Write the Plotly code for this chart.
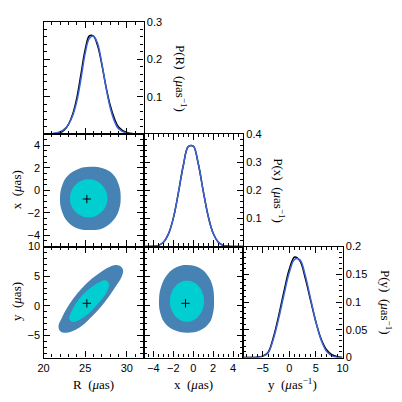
import plotly.graph_objects as go

# ---- marginal posteriors ----
R_grid = [20, 21, 22, 22.5, 23, 23.5, 24, 24.5, 25, 25.5, 26, 26.5, 27, 27.5, 28, 28.5, 29, 30, 31, 32]
pR_blue = [0, 0.0006, 0.006, 0.013, 0.026, 0.049, 0.088, 0.148, 0.216, 0.256, 0.262, 0.242, 0.189, 0.125, 0.071, 0.035, 0.014, 0.002, 0.0002, 0]
pR_black = [0, 0.0004, 0.004, 0.011, 0.026, 0.053, 0.097, 0.161, 0.226, 0.263, 0.262, 0.236, 0.186, 0.127, 0.077, 0.042, 0.019, 0.004, 0.0005, 0]

x_grid = [-5, -4, -3.5, -3, -2.5, -2, -1.5, -1, -0.5, 0, 0.5, 1, 1.5, 2, 2.5, 3, 3.5, 4, 5]
px_blue = [0, 0.001, 0.004, 0.015, 0.044, 0.101, 0.19, 0.288, 0.355, 0.357, 0.295, 0.198, 0.108, 0.047, 0.016, 0.004, 0.001, 0.0002, 0]
px_black = [0, 0.001, 0.004, 0.015, 0.044, 0.101, 0.19, 0.288, 0.355, 0.357, 0.295, 0.198, 0.108, 0.047, 0.016, 0.004, 0.001, 0.0002, 0]

y_grid = [-8.7, -7, -6, -5, -4, -3, -2, -1, 0, 1, 2, 3, 4, 5, 6, 7, 8, 9, 10]
py_blue = [0, 0.0001, 0.0005, 0.002, 0.008, 0.033, 0.07, 0.113, 0.153, 0.177, 0.176, 0.148, 0.106, 0.064, 0.031, 0.011, 0.003, 0.0005, 0]
py_black = [0, 0.0001, 0.0006, 0.0025, 0.009, 0.036, 0.075, 0.119, 0.159, 0.181, 0.174, 0.143, 0.103, 0.064, 0.033, 0.014, 0.005, 0.0012, 0.0002]

# ---- 2D credible regions (boundary points) ----
Rx_outer_R = [29.26, 29.05, 28.3, 27.1, 25.6, 24.2, 23.0, 22.25, 21.98, 22.2, 22.9, 24.1, 25.7, 27.2, 28.4, 29.05]
Rx_outer_x = [-0.72, 0.45, 1.45, 1.95, 2.09, 1.9, 1.35, 0.45, -0.72, -1.85, -2.8, -3.4, -3.53, -3.35, -2.65, -1.75]
Rx_inner_R = [27.66, 27.49, 27.0, 26.28, 25.42, 24.56, 23.84, 23.35, 23.18, 23.35, 23.84, 24.56, 25.42, 26.28, 27.0, 27.49]
Rx_inner_x = [-0.72, -0.07, 0.47, 0.84, 0.97, 0.84, 0.47, -0.07, -0.72, -1.37, -1.91, -2.28, -2.41, -2.28, -1.91, -1.37]

Ry_outer_R = [29.3, 28.9, 27.98, 26.38, 24.78, 23.18, 22.18, 21.8, 22.06, 22.78, 24.18, 25.78, 27.38, 28.78, 29.4, 29.55]
Ry_outer_y = [6.6, 6.85, 6.6, 5.2, 3.23, 0.43, -2.1, -3.5, -4.3, -4.52, -3.78, -1.83, 0.7, 3.51, 5.0, 6.0]
Ry_inner_R = [27.75, 27.4, 26.98, 25.58, 24.18, 23.26, 23.1, 23.3, 23.78, 25.18, 26.58, 27.5, 27.85]
Ry_inner_y = [4.0, 4.3, 4.2, 2.96, 0.99, -1.25, -2.1, -2.6, -2.67, -1.54, 0.43, 2.12, 3.4]

xy_outer_x = [2.09, 1.95, 1.5, 0.6, -0.55, -1.7, -2.6, -3.2, -3.44, -3.3, -2.8, -1.8, -0.55, 0.7, 1.6, 2.0]
xy_outer_y = [1.0, 3.3, 5.0, 6.4, 6.88, 6.5, 5.3, 3.4, 1.0, -1.3, -3.0, -4.15, -4.52, -4.1, -2.9, -1.1]
xy_inner_x = [1.08, 0.95, 0.58, 0.02, -0.63, -1.28, -1.84, -2.21, -2.34, -2.21, -1.84, -1.28, -0.63, 0.02, 0.58, 0.95]
xy_inner_y = [0.78, 2.1, 3.22, 3.97, 4.24, 3.97, 3.22, 2.1, 0.78, -0.54, -1.66, -2.41, -2.67, -2.41, -1.66, -0.54]

truth_R = 25.2
truth_x = -0.78
truth_y = 0.43

R_range = [20, 32]
x_range = [-5, 5]
y_range = [-8.7, 10]

OUTER = "#4682B4"
INNER = "#00CED1"
BLUE = "#3B63D6"

# page has an 8px body margin, so the figure is drawn 8px in from the window corner
OFF = 8.0
W = 402.0 - OFF

# panel edges in window pixels
cols = [43.5, 143.5, 243.0, 342.5]
rows = [22.0, 134.0, 246.5, 357.5]


def fx(p):
    return (p - OFF) / W


def fy(p):
    return 1 - (p - OFF) / W


def xdom(c):
    return [fx(cols[c]), fx(cols[c + 1])]


def ydom(r):
    return [fy(rows[r + 1]), fy(rows[r])]


fig = go.Figure()


def ref(n):
    return ("x", "y") if n == 1 else ("x%d" % n, "y%d" % n)


def diag(n, xs, blue, black):
    xa, ya = ref(n)
    fig.add_trace(go.Scatter(x=xs, y=black, mode="lines", line=dict(color="black", width=1.5, shape="spline"),
                             xaxis=xa, yaxis=ya, showlegend=False))
    fig.add_trace(go.Scatter(x=xs, y=blue, mode="lines", line=dict(color=BLUE, width=1.5, shape="spline"),
                             xaxis=xa, yaxis=ya, showlegend=False))


def region(n, ox, oy, ix, iy, tx, ty):
    xa, ya = ref(n)
    fig.add_trace(go.Scatter(x=ox + ox[:1], y=oy + oy[:1], fill="toself", fillcolor=OUTER, mode="lines",
                             line=dict(width=0, color=OUTER, shape="spline", smoothing=1.2),
                             xaxis=xa, yaxis=ya, showlegend=False))
    fig.add_trace(go.Scatter(x=ix + ix[:1], y=iy + iy[:1], fill="toself", fillcolor=INNER, mode="lines",
                             line=dict(width=0, color=INNER, shape="spline", smoothing=1.2),
                             xaxis=xa, yaxis=ya, showlegend=False))
    fig.add_trace(go.Scatter(x=[tx], y=[ty], mode="markers",
                             marker=dict(symbol="cross-thin", size=6, line=dict(width=1, color="black")),
                             xaxis=xa, yaxis=ya, showlegend=False))


diag(1, R_grid, pR_blue, pR_black)
region(2, Rx_outer_R, Rx_outer_x, Rx_inner_R, Rx_inner_x, truth_R, truth_x)
diag(3, x_grid, px_blue, px_black)
region(4, Ry_outer_R, Ry_outer_y, Ry_inner_R, Ry_inner_y, truth_R, truth_y)
region(5, xy_outer_x, xy_outer_y, xy_inner_x, xy_inner_y, truth_x, truth_y)
diag(6, y_grid, py_blue, py_black)

tickfont = dict(family="Liberation Sans, Arial, sans-serif", size=11, color="black")


def ax(rng, dtick, minor, domain, anchor, labels=None, side=None):
    d = dict(range=rng, domain=domain, anchor=anchor, showgrid=False, zeroline=False,
             showline=True, linecolor="black", linewidth=1.3, mirror="ticks",
             ticks="inside", ticklen=6, tickwidth=1.2, tickcolor="black",
             tick0=0, dtick=dtick, tickfont=tickfont,
             minor=dict(dtick=minor, tick0=0, ticks="inside", ticklen=3, tickwidth=1,
                        tickcolor="black", showgrid=False))
    if labels is None:
        d["showticklabels"] = False
    else:
        d["tickmode"] = "array"
        d["tickvals"] = labels
        d["ticktext"] = [("%g" % v).replace("-", "\u2212") for v in labels]
    if side:
        d["side"] = side
    return d


fig.update_layout(
    template="none",
    width=W, height=W,
    margin=dict(l=0, r=0, t=0, b=0),
    paper_bgcolor="white", plot_bgcolor="rgba(0,0,0,0)",
    # panel 1: P(R)
    xaxis=ax(R_range, 5, 1, xdom(0), "y"),
    yaxis=ax([0, 0.3], 0.1, 0.02, ydom(0), "x", [0.1, 0.2, 0.3], "right"),
    # panel 2: R vs x
    xaxis2=ax(R_range, 5, 1, xdom(0), "y2"),
    yaxis2=ax(x_range, 2, 0.5, ydom(1), "x2", [-4, -2, 0, 2, 4]),
    # panel 3: P(x)
    xaxis3=ax(x_range, 2, 0.5, xdom(1), "y3"),
    yaxis3=ax([0, 0.4], 0.1, 0.02, ydom(1), "x3", [0.1, 0.2, 0.3, 0.4], "right"),
    # panel 4: R vs y
    xaxis4=ax(R_range, 5, 1, xdom(0), "y4", [20, 25, 30]),
    yaxis4=ax(y_range, 5, 1, ydom(2), "x4", [-5, 0, 5, 10]),
    # panel 5: x vs y
    xaxis5=ax(x_range, 2, 0.5, xdom(1), "y5", [-4, -2, 0, 2, 4]),
    yaxis5=ax(y_range, 5, 1, ydom(2), "x5"),
    # panel 6: P(y)
    xaxis6=ax(y_range, 5, 1, xdom(2), "y6", [-5, 0, 5, 10]),
    yaxis6=ax([0, 0.2], 0.05, 0.01, ydom(2), "x6", [0, 0.05, 0.1, 0.15, 0.2], "right"),
)

serif = dict(family="Liberation Serif, Times New Roman, serif", size=13, color="black")
mu = "<i>\u03bc</i>as"
titles = [
    ("x  (" + mu + ")", 16, (rows[1] + rows[2]) / 2, -90),
    ("y  (" + mu + ")", 16, (rows[2] + rows[3]) / 2, -90),
    ("R  (" + mu + ")", (cols[0] + cols[1]) / 2, 384, 0),
    ("x  (" + mu + ")", (cols[1] + cols[2]) / 2, 384, 0),
    ("y  (" + mu + "<sup>\u22121</sup>)", (cols[2] + cols[3]) / 2, 384, 0),
    ("P(R)  (" + mu + "<sup>\u22121</sup>)", 181, (rows[0] + rows[1]) / 2, 90),
    ("P(x)  (" + mu + "<sup>\u22121</sup>)", 279, (rows[1] + rows[2]) / 2, 90),
    ("P(y)  (" + mu + "<sup>\u22121</sup>)", 386, (rows[2] + rows[3]) / 2, 90),
]
for text, px_, py_, ang in titles:
    fig.add_annotation(text=text, x=fx(px_), y=fy(py_), xref="paper", yref="paper",
                       showarrow=False, textangle=ang, font=serif, xanchor="center", yanchor="middle")

fig.write_html("out.html")
